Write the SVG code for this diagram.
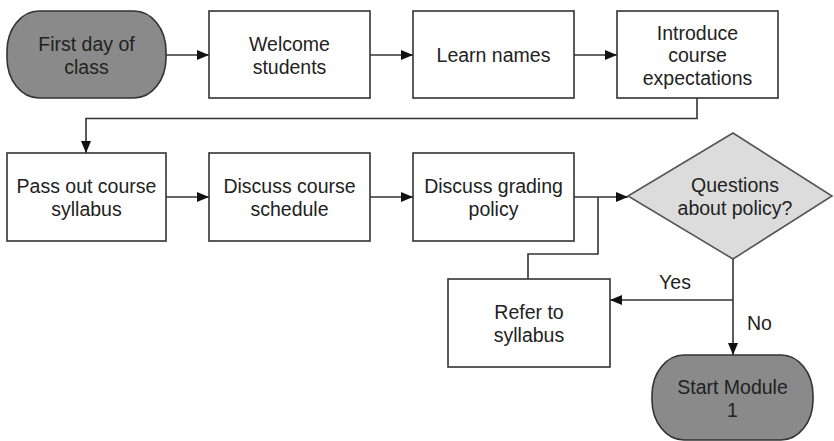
<svg xmlns="http://www.w3.org/2000/svg" width="834" height="441" viewBox="0 0 834 441">
  <style>
    .box { fill: #ffffff; stroke: #333333; stroke-width: 1.6; }
    .term { fill: #8a8a8a; stroke: #333333; stroke-width: 1.6; }
    .dec { fill: #dcdcdc; stroke: #555555; stroke-width: 1.6; }
    .lbl { font-family: "Liberation Sans", Arial, sans-serif; font-size: 19.5px; fill: #222222; text-anchor: middle; }
    .edge { fill: none; stroke: #333333; stroke-width: 1.6; }
    .arrow { marker-end: url(#head); }
  </style>
  <defs>
    <marker id="head" markerUnits="userSpaceOnUse" markerWidth="12" markerHeight="10" viewBox="0 0 12 10" refX="12" refY="5" orient="auto">
      <path d="M0,0 L12,5 L0,10 Z" fill="#111111"/>
    </marker>
  </defs>

  <rect width="834" height="441" fill="#ffffff"/>

  <g id="connectors">
    <line class="edge arrow" x1="166" y1="55" x2="209" y2="55"/>
    <line class="edge arrow" x1="370" y1="55" x2="413" y2="55"/>
    <line class="edge arrow" x1="574" y1="55" x2="617" y2="55"/>
    <polyline class="edge arrow" points="697,98 697,118.5 86,118.5 86,153"/>
    <line class="edge arrow" x1="166" y1="197" x2="209" y2="197"/>
    <line class="edge arrow" x1="370" y1="197" x2="413" y2="197"/>
    <line class="edge arrow" x1="574" y1="197" x2="628" y2="197"/>
    <polyline class="edge" points="528,279 528,254 598,254 598,197"/>
    <line class="edge arrow" x1="733" y1="259" x2="733" y2="355"/>
    <line class="edge arrow" x1="733" y1="300" x2="610" y2="300"/>
    <text class="lbl" x="675" y="289">Yes</text>
    <text class="lbl" x="747" y="330" style="text-anchor:start">No</text>
  </g>

  <g id="first-day">
    <rect class="term" x="7" y="11" width="159" height="87" rx="32" ry="40"/>
    <text class="lbl" x="86.5" y="50.5">First day of</text>
    <text class="lbl" x="86.5" y="73.5">class</text>
  </g>

  <g id="welcome">
    <rect class="box" x="209" y="11" width="161" height="87"/>
    <text class="lbl" x="289.5" y="50.5">Welcome</text>
    <text class="lbl" x="289.5" y="73.5">students</text>
  </g>

  <g id="learn-names">
    <rect class="box" x="413" y="11" width="161" height="87"/>
    <text class="lbl" x="493.5" y="62">Learn names</text>
  </g>

  <g id="expectations">
    <rect class="box" x="617" y="11" width="161" height="87"/>
    <text class="lbl" x="697.5" y="39.5">Introduce</text>
    <text class="lbl" x="697.5" y="62">course</text>
    <text class="lbl" x="697.5" y="84.5">expectations</text>
  </g>

  <g id="syllabus">
    <rect class="box" x="7" y="153" width="159" height="88"/>
    <text class="lbl" x="86.5" y="192.5">Pass out course</text>
    <text class="lbl" x="86.5" y="215.5">syllabus</text>
  </g>

  <g id="schedule">
    <rect class="box" x="209" y="153" width="161" height="88"/>
    <text class="lbl" x="289.5" y="192.5">Discuss course</text>
    <text class="lbl" x="289.5" y="215.5">schedule</text>
  </g>

  <g id="grading">
    <rect class="box" x="413" y="153" width="161" height="88"/>
    <text class="lbl" x="493.5" y="192.5">Discuss grading</text>
    <text class="lbl" x="493.5" y="215.5">policy</text>
  </g>

  <g id="questions">
    <polygon class="dec" points="733,133 832,196 733,259 628,196"/>
    <text class="lbl" x="735" y="191.5">Questions</text>
    <text class="lbl" x="735" y="214.5">about policy?</text>
  </g>

  <g id="refer">
    <rect class="box" x="448" y="279" width="162" height="88"/>
    <text class="lbl" x="529" y="318.5">Refer to</text>
    <text class="lbl" x="529" y="341.5">syllabus</text>
  </g>

  <g id="start-module">
    <rect class="term" x="652" y="355" width="161" height="85" rx="32" ry="40"/>
    <text class="lbl" x="732.5" y="393.5">Start Module</text>
    <text class="lbl" x="732.5" y="416.5">1</text>
  </g>
</svg>
